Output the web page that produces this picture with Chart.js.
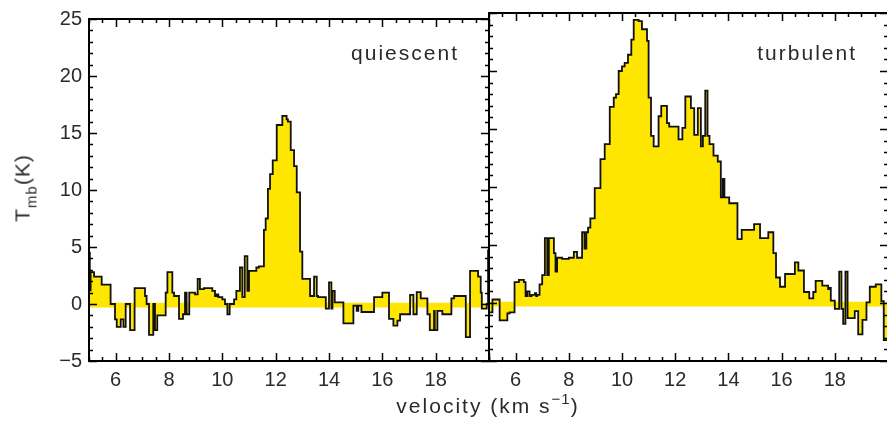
<!DOCTYPE html>
<html>
<head>
<meta charset="utf-8">
<script src="https://cdn.jsdelivr.net/npm/chart.js@4.4.1/dist/chart.umd.min.js"></script>
<style>
  html, body { margin: 0; padding: 0; background: #fff; width: 887px; height: 421px; overflow: hidden; }
  #wrap { position: relative; width: 887px; height: 421px; }
  canvas { position: absolute; top: 0; }
  .lbl { position: absolute; font-family: 'Liberation Sans', sans-serif; font-size: 21px; line-height: 21px;
         color: #2a2a2a; letter-spacing: 2px; white-space: nowrap; }
  .sup { font-size: 15px; position: relative; top: -9px; letter-spacing: 1px; }
  .sub { font-size: 15px; position: relative; top: 7px; letter-spacing: 1px; }
  #xt { left: 488px; top: 395px; transform: translateX(-50%); }
  #yt { left: 23px; top: 188px; transform: translate(-50%, -50%) rotate(-90deg); letter-spacing: 1px; }
</style>
</head>
<body>
<div id="wrap">
  <canvas id="quiescent" width="500" height="421" style="left:0"></canvas>
  <canvas id="turbulent" width="420" height="421" style="left:480px"></canvas>
  <div class="lbl" style="right:428px; top:42px">quiescent</div>
  <div class="lbl" style="right:30px; top:42px">turbulent</div>
  <div class="lbl" id="xt">velocity (km s<span class="sup">−1</span>)</div>
  <div class="lbl" id="yt">T<span class="sub">mb</span>(K)</div>
</div>
<script>
const xMin = 5, xMax = 20, yMin = -5, yMax = 25;
const xTicks = [6, 8, 10, 12, 14, 16, 18];
const yTicks = [-5, 0, 5, 10, 15, 20, 25];

const quiescentVel = [
  5.0, 5.03, 5.06, 5.19, 5.475, 5.81, 5.975, 6.04, 6.19, 6.29, 6.375, 6.54, 6.71, 7.1, 7.16,
  7.25, 7.41, 7.475, 7.56, 7.875, 7.94, 8.125, 8.19, 8.375, 8.525, 8.6, 8.66, 8.76, 8.975, 9.075,
  9.16, 9.31, 9.625, 9.725, 9.79, 9.85, 10.0, 10.1, 10.19, 10.275, 10.44, 10.525, 10.66, 10.75, 10.84,
  10.94, 11.0, 11.275, 11.375, 11.56, 11.625, 11.71, 11.79, 11.89, 12.04, 12.25, 12.41, 12.46, 12.565, 12.69,
  12.79, 12.915, 13.0, 13.29, 13.44, 13.54, 13.59, 13.88, 14.0, 14.09, 14.13, 14.215, 14.54, 14.915, 15.04,
  15.1, 15.215, 15.69, 16.0, 16.25, 16.415, 16.565, 16.665, 17.04, 17.165, 17.29, 17.44, 17.69, 17.78, 17.94,
  17.965, 18.065, 18.25, 18.59, 18.69, 19.13, 19.29, 19.59, 19.69, 19.73, 19.915, 19.965
];
const quiescentT = [
  4.5, 1.2, 2.8, 2.4, 1.7, 0, -1.35, -2.0, -1.35, -2.0, 0, -2.3, 1.4, 0.7, 0,
  -2.7, 0, -2.3, -1.0, 1.0, 2.8, 1.0, 0.7, -1.3, -0.9, 1.0, -0.9, 1.0, 0.85, 2.2,
  1.3, 1.4, 1.15, 0.7, 0.85, 0.6, 0.4, 0, -0.9, 0, 0.4, 1.15, 3.2, 0.6, 4.2,
  1.15, 2.9, 3.2, 3.3, 6.5, 7.5, 10.1, 11.4, 12.6, 15.7, 16.5, 16.2, 16.0, 13.5, 12.1,
  9.8, 4.6, 2.2, 0.7, 2.4, 0.7, 0.6, -0.4, 1.9, -0.4, 1.15, 0.15, -1.7, -0.15, -0.6,
  -0.15, -0.7, 0.6, 1.0, -1.3, -1.9, -1.45, -0.9, 0.8, -0.9, 1.05, 0.5, -0.9, -2.3, -0.6,
  -2.3, -0.6, -0.9, 0.5, 0.7, -2.9, 2.9, 2.4, 1.0, -0.4, 0, 4.7
];

const turbulentVel = [
  5.0, 5.13, 5.4, 5.69, 5.775, 5.96, 6.125, 6.31, 6.375, 6.44, 6.525, 6.6, 6.725, 6.775, 6.81,
  6.9, 7.0, 7.1, 7.19, 7.25, 7.44, 7.5, 7.56, 7.75, 8.0, 8.19, 8.31, 8.5, 8.59, 8.66,
  8.725, 8.81, 8.975, 9.19, 9.35, 9.54, 9.69, 9.775, 9.875, 10.0, 10.1, 10.225, 10.35, 10.44, 10.625,
  10.75, 10.94, 11.0, 11.09, 11.19, 11.375, 11.475, 11.69, 11.775, 12.125, 12.27, 12.38, 12.59, 12.715, 12.85,
  12.965, 13.04, 13.13, 13.215, 13.29, 13.44, 13.6, 13.715, 13.79, 13.85, 14.03, 14.34, 14.5, 14.965, 15.19,
  15.5, 15.69, 15.79, 15.94, 16.13, 16.5, 16.63, 16.84, 17.04, 17.19, 17.28, 17.53, 17.75, 17.815, 17.85,
  18.0, 18.165, 18.25, 18.315, 18.4, 18.48, 18.75, 18.88, 19.04, 19.19, 19.315, 19.54, 19.75, 19.84
];
const turbulentT = [
  -0.8, 0.3, -1.5, -0.9, -0.8, 1.8, 2.0, 1.8, 0.6, 1.0, 0.6, 0.7, 0.85, 0.6, 0.7,
  1.6, 2.4, 5.6, 2.4, 5.6, 4.3, 2.7, 3.9, 3.8, 3.9, 4.4, 3.9, 6.1, 4.7, 6.1,
  6.5, 7.3, 9.9, 12.4, 13.7, 16.9, 17.7, 18.0, 20.0, 20.4, 20.7, 21.4, 22.7, 24.4, 24.3,
  23.6, 22.6, 17.7, 14.4, 13.5, 16.1, 17.0, 15.5, 15.2, 14.1, 15.1, 17.8, 16.8, 14.5, 16.8,
  13.5, 14.4, 18.3, 14.4, 13.7, 12.7, 12.2, 9.1, 10.7, 9.1, 8.6, 5.5, 6.3, 6.8, 5.6,
  6.1, 4.3, 2.2, 1.4, 2.5, 3.5, 2.8, 0.95, 0.4, 0.95, 1.9, 1.5, 1.2, 1.3, 0.2,
  -0.5, 2.7, -0.5, -1.8, 2.7, -1.3, -0.7, -2.7, -1.45, 0.05, 1.4, 1.6, 0.15, -3.2
];

// thin yellow strip along the zero line (top, bottom in K)
const baseBand = [0.1, -0.3];

const yellow = '#ffe600';

Chart.defaults.font.family = "'Liberation Sans', sans-serif";
Chart.defaults.font.size = 20;
Chart.defaults.color = '#2a2a2a';

// IDL-style frame with inward major/minor ticks on all four sides
const frameTicks = {
  id: 'frameTicks',
  afterDatasetsDraw(chart) {
    const { ctx, chartArea: a } = chart;
    const x = chart.scales.x, y = chart.scales.y;
    ctx.save();
    ctx.strokeStyle = '#000';
    ctx.lineWidth = 1.5;
    ctx.beginPath();
    for (let v = xMin; v <= xMax; v += 0.5) {
      const px = Math.round(x.getPixelForValue(v)) + 0.5;
      const len = v % 2 === 0 ? 8 : 4;
      ctx.moveTo(px, a.bottom); ctx.lineTo(px, a.bottom - len);
      ctx.moveTo(px, a.top); ctx.lineTo(px, a.top + len);
    }
    for (let v = yMin; v <= yMax; v += 1) {
      const py = Math.round(y.getPixelForValue(v)) + 0.5;
      const len = v % 5 === 0 ? 8 : 4;
      ctx.moveTo(a.left, py); ctx.lineTo(a.left + len, py);
      ctx.moveTo(a.right, py); ctx.lineTo(a.right - len, py);
    }
    ctx.stroke();
    ctx.lineWidth = 2;
    ctx.strokeRect(a.left, a.top, a.right - a.left, a.bottom - a.top);
    ctx.restore();
  }
};

function makeChart(id, vel, temp, showY, yWidth, pad) {
  const pts = vel.map((v, i) => ({ x: v, y: temp[i] }));
  pts.push({ x: xMax, y: temp[temp.length - 1] });

  return new Chart(document.getElementById(id), {
    type: 'line',
    data: {
      datasets: [
        {
          data: pts,
          stepped: true,
          borderColor: '#111',
          borderWidth: 1.8,
          backgroundColor: yellow,
          fill: 'origin',
          pointRadius: 0
        },
        {
          data: [{ x: xMin, y: baseBand[0] }, { x: xMax, y: baseBand[0] }],
          borderColor: 'rgba(0,0,0,0)',
          borderWidth: 1,
          backgroundColor: yellow,
          fill: { value: baseBand[1] },
          pointRadius: 0
        }
      ]
    },
    options: {
      responsive: false,
      animation: false,
      devicePixelRatio: 1,
      layout: { padding: pad },
      plugins: {
        legend: { display: false },
        tooltip: { enabled: false }
      },
      scales: {
        x: {
          type: 'linear',
          min: xMin,
          max: xMax,
          grid: { display: false, drawTicks: false },
          border: { display: false },
          afterBuildTicks: s => { s.ticks = xTicks.map(v => ({ value: v })); },
          afterFit: s => { s.height = 60; },
          ticks: { padding: 7, autoSkip: false, maxRotation: 0 }
        },
        y: {
          type: 'linear',
          min: yMin,
          max: yMax,
          grid: { display: false, drawTicks: false },
          border: { display: false },
          afterBuildTicks: s => { s.ticks = yTicks.map(v => ({ value: v })); },
          afterFit: s => { s.width = yWidth; },
          ticks: {
            display: showY,
            padding: 7,
            callback: v => String(v).replace('-', '\u2212')
          }
        }
      }
    },
    plugins: [frameTicks]
  });
}

makeChart('quiescent', quiescentVel, quiescentT, true, 89, { top: 13, right: 11, left: 0, bottom: 0 });
makeChart('turbulent', turbulentVel, turbulentT, false, 9, { top: 13, right: 12, left: 0, bottom: 0 });
</script>
</body>
</html>
